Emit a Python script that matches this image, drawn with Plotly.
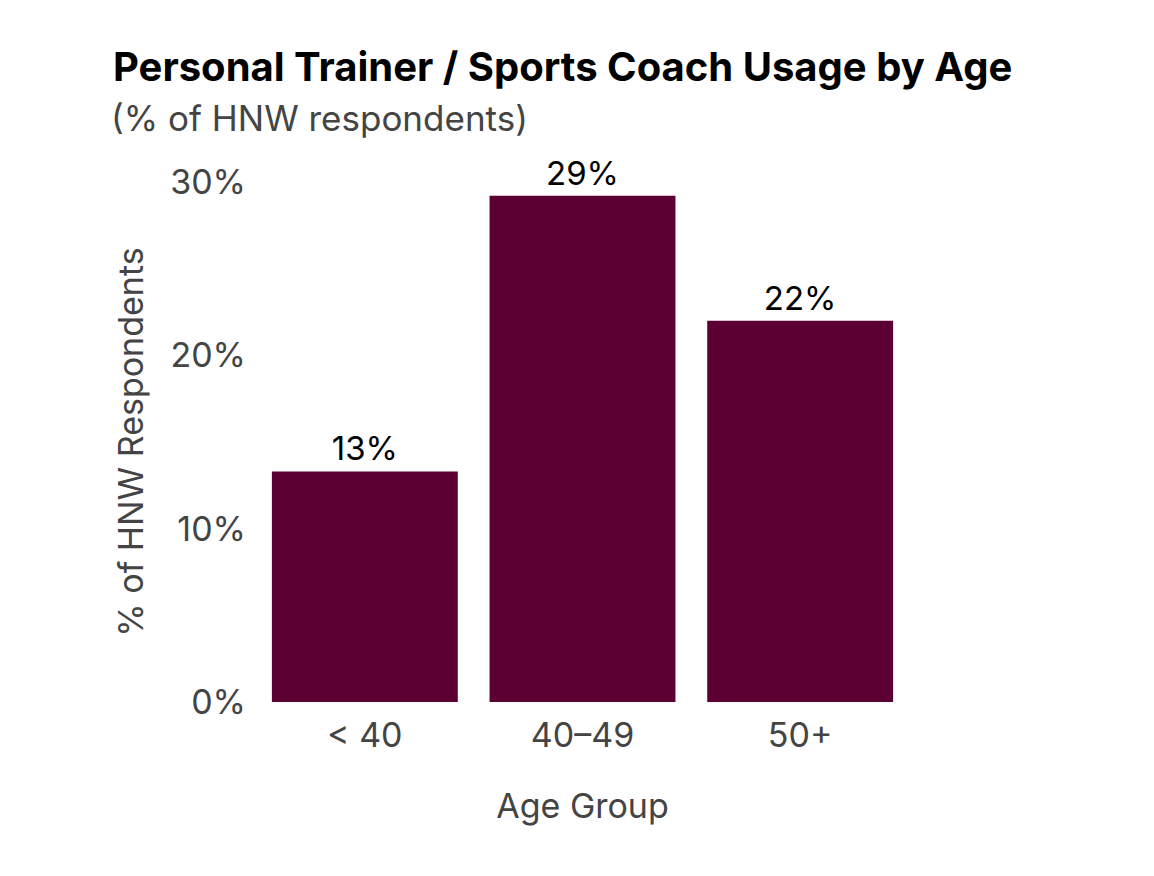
import plotly.graph_objects as go

# usage by age group, % of HNW respondents
age_groups = ["< 40", "40–49", "50+"]
usage_pct = [13.3, 29.2, 22.0]
y_ticks = [0, 10, 20, 30]
y_tick_labels = ["0%", "10%", "20%", "30%"]

BAR_COLOR = "#5C0033"
TEXT_GRAY = "#444444"
FONT = "Inter, Roboto, sans-serif"

# plot area in figure pixels (page has an 8px body margin)
M_L, M_R, M_T, M_B = 248, 253, 174, 182
PLOT_W = 1154 - M_L - M_R
PLOT_H = 876 - M_T - M_B

fig = go.Figure()
fig.add_trace(
    go.Bar(
        x=age_groups,
        y=usage_pct,
        marker=dict(color=BAR_COLOR, line=dict(width=0)),
        texttemplate="%{y:.0f}%",
        textposition="outside",
        textfont=dict(family=FONT, size=33, color="#000000"),
        cliponaxis=False,
        hoverinfo="skip",
    )
)

fig.add_annotation(
    text="(% of HNW respondents)",
    xref="paper",
    yref="paper",
    x=(101 - M_L) / PLOT_W,
    y=1 + (M_T - 110) / PLOT_H,
    xanchor="left",
    yanchor="middle",
    showarrow=False,
    font=dict(family=FONT, size=35, color=TEXT_GRAY),
)

fig.update_layout(
    width=1154,
    height=876,
    margin=dict(l=M_L, r=M_R, t=M_T, b=M_B),
    paper_bgcolor="white",
    plot_bgcolor="white",
    bargap=0.146,
    showlegend=False,
    font=dict(family=FONT, color=TEXT_GRAY),
    title=dict(
        text="<b>Personal Trainer / Sports Coach Usage by Age</b>",
        x=105 / 1154,
        xanchor="left",
        xref="container",
        y=1 - 45 / 876,
        yanchor="top",
        yref="container",
        font=dict(family=FONT, size=40, color="#000000"),
    ),
    xaxis=dict(
        range=[-0.5, 2.5],
        showgrid=False,
        showline=False,
        zeroline=False,
        tickfont=dict(family=FONT, size=34, color=TEXT_GRAY),
        ticklabelstandoff=10,
        title=dict(
            text="Age Group",
            font=dict(family=FONT, size=34, color=TEXT_GRAY),
            standoff=40,
        ),
    ),
    yaxis=dict(
        range=[0, 30],
        tickvals=y_ticks,
        ticktext=y_tick_labels,
        showgrid=False,
        showline=False,
        zeroline=False,
        tickfont=dict(family=FONT, size=34, color=TEXT_GRAY),
        ticklabelstandoff=9,
        title=dict(
            text="% of HNW Respondents",
            font=dict(family=FONT, size=34, color=TEXT_GRAY),
            standoff=16,
        ),
    ),
)

fig.write_html("out.html")
